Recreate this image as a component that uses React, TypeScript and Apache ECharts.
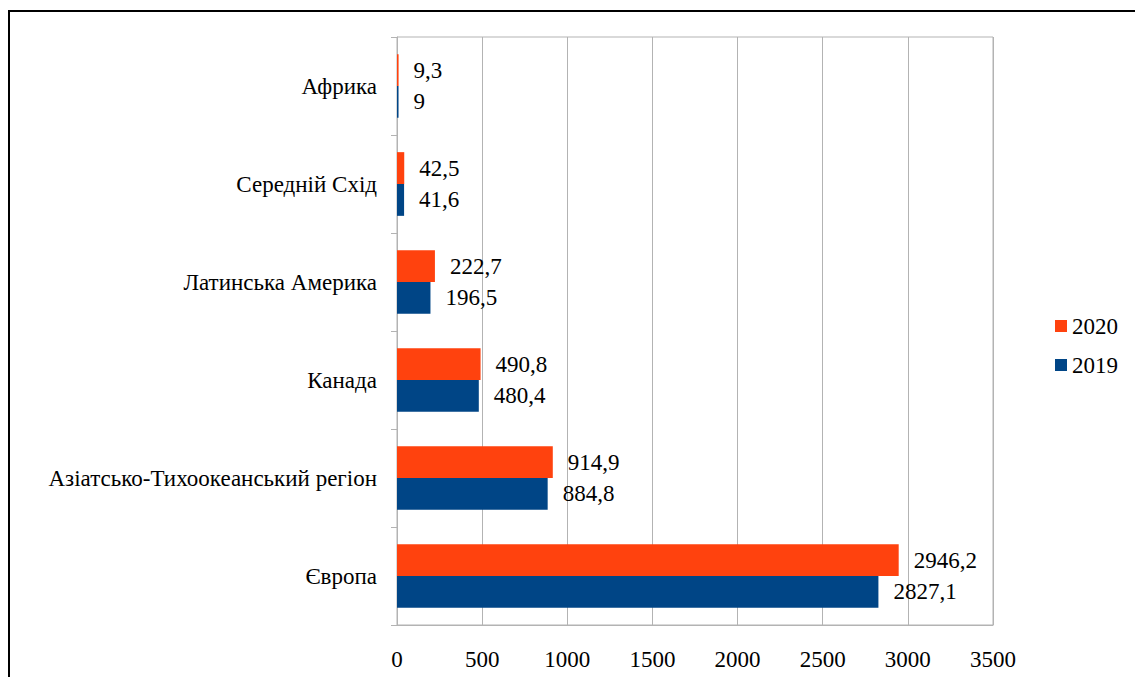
import React, { useEffect, useRef } from "react";
import * as echarts from "echarts";

const categories = [
  "Європа",
  "Азіатсько-Тихоокеанський регіон",
  "Канада",
  "Латинська Америка",
  "Середній Схід",
  "Африка",
];
const values2019 = [2827.1, 884.8, 480.4, 196.5, 41.6, 9];
const values2020 = [2946.2, 914.9, 490.8, 222.7, 42.5, 9.3];
const xTicks = { min: 0, max: 3500, interval: 500 };

const FONT = "Liberation Serif, Times New Roman, serif";
const GRAY = "#b3b3b3";
const FS = 23;

export default function App() {
  const ref = useRef<HTMLDivElement>(null);
  useEffect(() => {
    if (!ref.current) return;
    const chart = echarts.init(ref.current, undefined, { renderer: "svg" });
    const fmt = (p: any) => String(p.value).replace(".", ",");
    const label = {
      show: true,
      position: "right",
      distance: 15,
      formatter: fmt,
      fontFamily: FONT,
      fontSize: FS,
      color: "#000",
    };
    chart.setOption({
      animation: false,
      textStyle: { fontFamily: FONT },
      grid: {
        left: 397,
        top: 37,
        width: 596,
        height: 588,
        show: true,
        borderColor: GRAY,
        borderWidth: 1,
        containLabel: false,
      },
      legend: {
        orient: "vertical",
        left: 1050,
        top: 309,
        data: ["2020", "2019"],
        icon: "rect",
        itemWidth: 12,
        itemHeight: 12,
        itemGap: 15,
        textStyle: { fontFamily: FONT, fontSize: FS, color: "#000", lineHeight: 24 },
      },
      xAxis: {
        type: "value",
        min: xTicks.min,
        max: xTicks.max,
        interval: xTicks.interval,
        axisLine: { show: true, lineStyle: { color: GRAY } },
        axisTick: { show: false },
        splitLine: { show: true, lineStyle: { color: GRAY, width: 1 } },
        axisLabel: {
          fontFamily: FONT,
          fontSize: FS,
          color: "#000",
          margin: 23,
          formatter: (v: number) => String(v),
        },
      },
      yAxis: {
        type: "category",
        data: categories,
        axisLine: { show: true, lineStyle: { color: GRAY } },
        axisTick: { show: true, length: 6, lineStyle: { color: GRAY } },
        axisLabel: { fontFamily: FONT, fontSize: FS, color: "#000", margin: 20 },
      },
      series: [
        {
          name: "2020",
          type: "bar",
          data: values2020,
          barGap: "0%",
          barCategoryGap: "35%",
          itemStyle: { color: "#ff420e" },
          label,
        },
        {
          name: "2019",
          type: "bar",
          data: values2019,
          barGap: "0%",
          barCategoryGap: "35%",
          itemStyle: { color: "#004586" },
          label,
        },
      ],
      graphic: [
        { type: "line", shape: { x1: 9, y1: 11, x2: 1135, y2: 11 }, style: { stroke: "#000", lineWidth: 2 } },
        { type: "line", shape: { x1: 9, y1: 10, x2: 9, y2: 677 }, style: { stroke: "#000", lineWidth: 2 } },
      ],
    });
    return () => chart.dispose();
  }, []);
  return (
    <div
      ref={ref}
      style={{ position: "fixed", left: 0, top: 0, width: 1135, height: 677, background: "#fff" }}
    />
  );
}
